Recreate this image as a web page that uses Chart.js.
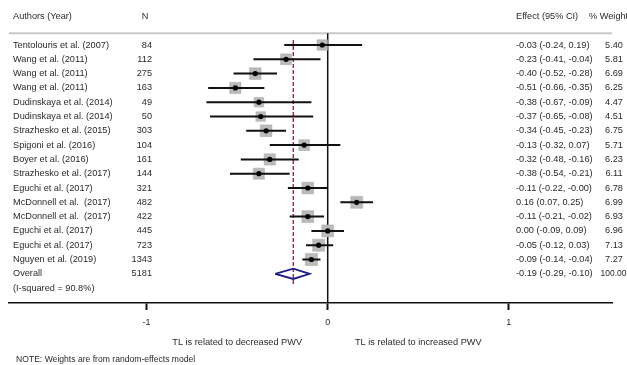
<!DOCTYPE html>
<html>
<head>
<meta charset="utf-8">
<script src="https://cdn.jsdelivr.net/npm/chart.js@4.4.1/dist/chart.umd.min.js"></script>
<style>
html,body{margin:0;padding:0;background:#fff;}
#wrap{width:627px;height:365px;position:relative;}
</style>
</head>
<body>
<div id="wrap"><canvas id="c" width="627" height="365"></canvas></div>
<script>
// ---- data ----
const authors = [
  "Tentolouris et al. (2007)", "Wang et al. (2011)", "Wang et al. (2011)", "Wang et al. (2011)",
  "Dudinskaya et al. (2014)", "Dudinskaya et al. (2014)", "Strazhesko et al. (2015)",
  "Spigoni et al. (2016)", "Boyer et al. (2016)", "Strazhesko et al. (2017)",
  "Eguchi et al. (2017)", "McDonnell et al.  (2017)", "McDonnell et al.  (2017)",
  "Eguchi et al. (2017)", "Eguchi et al. (2017)", "Nguyen et al. (2019)"
];
const sampleN = [84, 112, 275, 163, 49, 50, 303, 104, 161, 144, 321, 482, 422, 445, 723, 1343];
const effect  = [-0.03, -0.23, -0.40, -0.51, -0.38, -0.37, -0.34, -0.13, -0.32, -0.38, -0.11, 0.16, -0.11, 0.00, -0.05, -0.09];
const lower   = [-0.24, -0.41, -0.52, -0.66, -0.67, -0.65, -0.45, -0.32, -0.48, -0.54, -0.22, 0.07, -0.21, -0.09, -0.12, -0.14];
const upper   = [0.19, -0.04, -0.28, -0.35, -0.09, -0.08, -0.23, 0.07, -0.16, -0.21, -0.00, 0.25, -0.02, 0.09, 0.03, -0.04];
const weight  = [5.40, 5.81, 6.69, 6.25, 4.47, 4.51, 6.75, 5.71, 6.23, 6.11, 6.78, 6.99, 6.93, 6.96, 7.13, 7.27];
const overallLabel = "Overall";
const overallN = 5181;
const overallEffect = -0.19;
const overallLower = -0.29;
const overallUpper = -0.10;
const overallWeight = 100.00;
const heterogeneityLabel = "(I-squared = 90.8%)";
const xTicks = [-1, 0, 1];
const headers = { author: "Authors (Year)", n: "N", effect: "Effect (95% CI)", weight: "% Weight" };
const sideLabels = ["TL is related to decreased PWV", "TL is related to increased PWV"];
const noteText = "NOTE: Weights are from random-effects model";

// ---- helpers ----
const fmt = v => (v < 0 || Object.is(v, -0)) ? "-" + Math.abs(v).toFixed(2) : v.toFixed(2);
const ciText = (e, l, u) => `${fmt(e)} (${fmt(l)}, ${fmt(u)})`;
const nRows = authors.length;
const overallRow = nRows;
const hetRow = nRows + 1;
const headerRow = -1.98;
const sepRow = -0.82;
const X_MIN = -1.76, X_MAX = 1.57;
const Y_MIN = -3.147, Y_MAX = 18.04;

const ciData = [];
authors.forEach((a, i) => {
  ciData.push({x: lower[i], y: i}, {x: upper[i], y: i}, {x: null, y: null});
});
const ptData = effect.map((e, i) => ({x: e, y: i}));
const dh = 0.36;
const diamond = [
  {x: overallLower, y: overallRow}, {x: overallEffect, y: overallRow - dh},
  {x: overallUpper, y: overallRow}, {x: overallEffect, y: overallRow + dh},
  {x: overallLower, y: overallRow}
];

const FAMILY = '"Liberation Sans", Arial, sans-serif';
const FONT = '9.2px ' + FAMILY;
const TXT = '#2a2a2a';

const textPlugin = {
  id: 'forestText',
  afterDraw(chart) {
    const ctx = chart.ctx, xs = chart.scales.x, ys = chart.scales.y;
    ctx.save();
    ctx.font = FONT;
    ctx.fillStyle = TXT;
    ctx.textBaseline = 'middle';
    const colAuthor = 13, colN = 152, colEff = 516, colW = 614;
    // headers
    const hy = ys.getPixelForValue(headerRow);
    ctx.textAlign = 'left';
    ctx.fillText(headers.author, colAuthor, hy);
    ctx.textAlign = 'center';
    ctx.fillText(headers.n, 145, hy);
    ctx.textAlign = 'left';
    ctx.fillText(headers.effect, colEff, hy);
    ctx.fillText(headers.weight, 589, hy);
    // rows
    authors.forEach((a, i) => {
      const y = ys.getPixelForValue(i);
      ctx.textAlign = 'left';
      ctx.fillText(a, colAuthor, y);
      ctx.fillText(ciText(effect[i], lower[i], upper[i]), colEff, y);
      ctx.textAlign = 'center';
      ctx.fillText(weight[i].toFixed(2), colW, y);
      ctx.textAlign = 'right';
      ctx.fillText(String(sampleN[i]), colN, y);
    });
    const oy = ys.getPixelForValue(overallRow);
    ctx.textAlign = 'left';
    ctx.fillText(overallLabel, colAuthor, oy);
    ctx.fillText(ciText(overallEffect, overallLower, overallUpper), colEff, oy);
    ctx.textAlign = 'center';
    ctx.fillText(overallWeight.toFixed(2), 613.5, oy, 26);
    ctx.textAlign = 'right';
    ctx.fillText(String(overallN), colN, oy);
    ctx.textAlign = 'left';
    ctx.fillText(heterogeneityLabel, colAuthor, ys.getPixelForValue(hetRow));
    // side labels
    ctx.textAlign = 'center';
    ctx.fillText(sideLabels[0], xs.getPixelForValue(-0.5), 342);
    ctx.fillText(sideLabels[1], xs.getPixelForValue(0.5), 342);
    ctx.textAlign = 'left';
    ctx.font = '8.6px ' + FAMILY;
    ctx.fillText(noteText, 16, 360);
    ctx.restore();
  }
};

new Chart(document.getElementById('c'), {
  type: 'scatter',
  data: {
    datasets: [
      { label: 'point', data: ptData, order: 0, pointStyle: 'circle', pointRadius: 2.6,
        backgroundColor: '#000', borderColor: '#000', borderWidth: 0, showLine: false },
      { label: 'ci', data: ciData, order: 1, showLine: true, spanGaps: false, pointRadius: 0,
        borderColor: '#111', borderWidth: 2 },
      { label: 'box', data: ptData, order: 2, pointStyle: 'rect', showLine: false,
        pointRadius: ctx => 3.2 * Math.sqrt(weight[ctx.dataIndex] || 0),
        backgroundColor: '#bababa', borderColor: '#adadad', borderWidth: 0.5 },
      { label: 'diamond', data: diamond, order: 3, showLine: true, pointRadius: 0,
        borderColor: '#1c1c8a', borderWidth: 1.8, fill: false },
      { label: 'overallLine', data: [{x: overallEffect, y: -0.35}, {x: overallEffect, y: 16.75}], order: 4,
        showLine: true, pointRadius: 0, borderColor: '#b8202e', borderWidth: 1.4, borderDash: [4, 2] },
      { label: 'zero', data: [{x: 0, y: sepRow}, {x: 0, y: Y_MAX}], order: 5,
        showLine: true, pointRadius: 0, borderColor: '#111', borderWidth: 1.5 },
      { label: 'sep', data: [{x: X_MIN, y: sepRow}, {x: X_MAX, y: sepRow}], order: 6,
        showLine: true, pointRadius: 0, borderColor: '#c8c8c8', borderWidth: 2 }
    ]
  },
  options: {
    responsive: false,
    animation: false,
    events: [],
    layout: { autoPadding: false, padding: { left: 9, right: 15, top: 0, bottom: 0 } },
    plugins: { legend: { display: false }, tooltip: { enabled: false } },
    scales: {
      x: {
        type: 'linear', min: X_MIN, max: X_MAX,
        afterBuildTicks: s => { s.ticks = xTicks.map(v => ({value: v})); },
        afterFit: s => { s.height = 62; },
        grid: { drawOnChartArea: false, drawTicks: true, tickLength: 7, tickWidth: 2, tickColor: '#111' },
        border: { display: true, color: '#111', width: 1.5 },
        ticks: { padding: 7, color: TXT, font: { family: FAMILY, size: 9 },
                 callback: v => String(v) }
      },
      y: {
        type: 'linear', reverse: true, min: Y_MIN, max: Y_MAX, display: false
      }
    }
  },
  plugins: [textPlugin]
});
</script>
</body>
</html>
